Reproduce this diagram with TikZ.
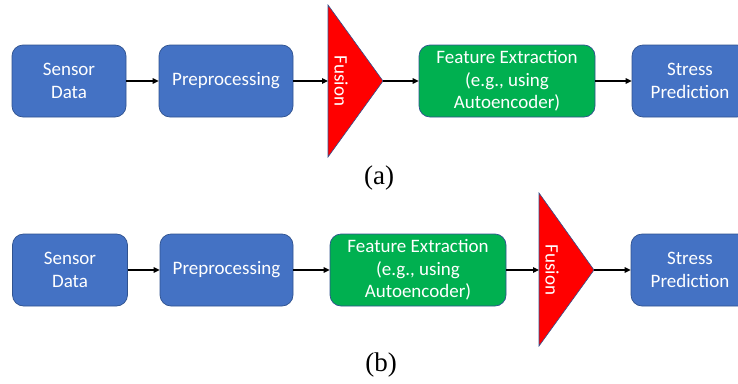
\documentclass[tikz,border=0pt]{standalone}
\usepackage{fontspec}
\setmainfont{Liberation Serif}
\newfontfamily\boxfont{Carlito}
\usetikzlibrary{arrows.meta}

\definecolor{boxblue}{HTML}{4472C4}
\definecolor{boxgreen}{HTML}{00B050}
\definecolor{boxline}{HTML}{2F528F}
\definecolor{fusionred}{HTML}{FF0000}

\tikzset{
	block/.style={draw=boxline, fill=boxblue, line width=0.7pt, rounded corners=11pt,
		minimum height=72pt, inner sep=0pt, align=center, text=white,
		font=\boxfont\fontsize{19}{22.5}\selectfont},
	greenblock/.style={block, fill=boxgreen},
	fusiontext/.style={text=white, rotate=-90, inner sep=0pt,
		font=\boxfont\fontsize{19}{22.5}\selectfont},
	flow/.style={line width=1.2pt, -{Triangle[length=6pt,width=5.5pt]}},
	caption/.style={font=\fontsize{27}{30}\selectfont, inner sep=0pt}
}

\begin{document}
\begin{tikzpicture}[x=1pt, y=-1pt]
		\useasboundingbox (0,0) rectangle (738,383);
		\def\fusiona{(328,5) -- (383,81) -- (328,157) -- cycle}
		\def\fusionb{(539,193) -- (594,270) -- (539,346) -- cycle}
		
		% Draw the fusion triangles
		\filldraw[fill=fusionred, draw=boxline, line width=0.6pt] \fusiona;
		\filldraw[fill=fusionred, draw=boxline, line width=0.6pt] \fusionb;
		\coordinate (fusAin) at (328,81);
		\coordinate (fusAout) at (383,81);
		\coordinate (fusBin) at (539,270);
		\coordinate (fusBout) at (594,270);
		
		% Row (a)
		\node[block, minimum width=114pt] (sensA) at (69,81) {Sensor\\Data};
		\node[block, minimum width=134pt] (preA) at (226,81) {Preprocessing};
		\node[fusiontext] (fusA) at (341,81) {Fusion};
		\node[greenblock, minimum width=176pt] (featA) at (507,81) {Feature Extraction\\(e.g., using\\Autoencoder)};
		\node[block, minimum width=116pt] (stressA) at (690,81) {Stress\\Prediction};
		
		\draw[flow] (sensA) -- (preA);
		\draw[flow] (preA) -- (fusAin);
		\draw[flow] (fusAout) -- (featA);
		\draw[flow] (featA) -- (stressA);
		
		\node[caption] (capA) at (379,178) {(a)};
		
		% Row (b)
		\node[block, minimum width=115pt] (sensB) at (70,270) {Sensor\\Data};
		\node[block, minimum width=133pt] (preB) at (226.5,270) {Preprocessing};
		\node[greenblock, minimum width=176pt] (featB) at (418,270) {Feature Extraction\\(e.g., using\\Autoencoder)};
		\node[fusiontext] (fusB) at (552,270) {Fusion};
		\node[block, minimum width=118pt] (stressB) at (690,270) {Stress\\Prediction};
		
		\draw[flow] (sensB) -- (preB);
		\draw[flow] (preB) -- (featB);
		\draw[flow] (featB) -- (fusBin);
		\draw[flow] (fusBout) -- (stressB);
		
		\node[caption] (capB) at (381,365) {(b)};
	\end{tikzpicture}
\end{document}
